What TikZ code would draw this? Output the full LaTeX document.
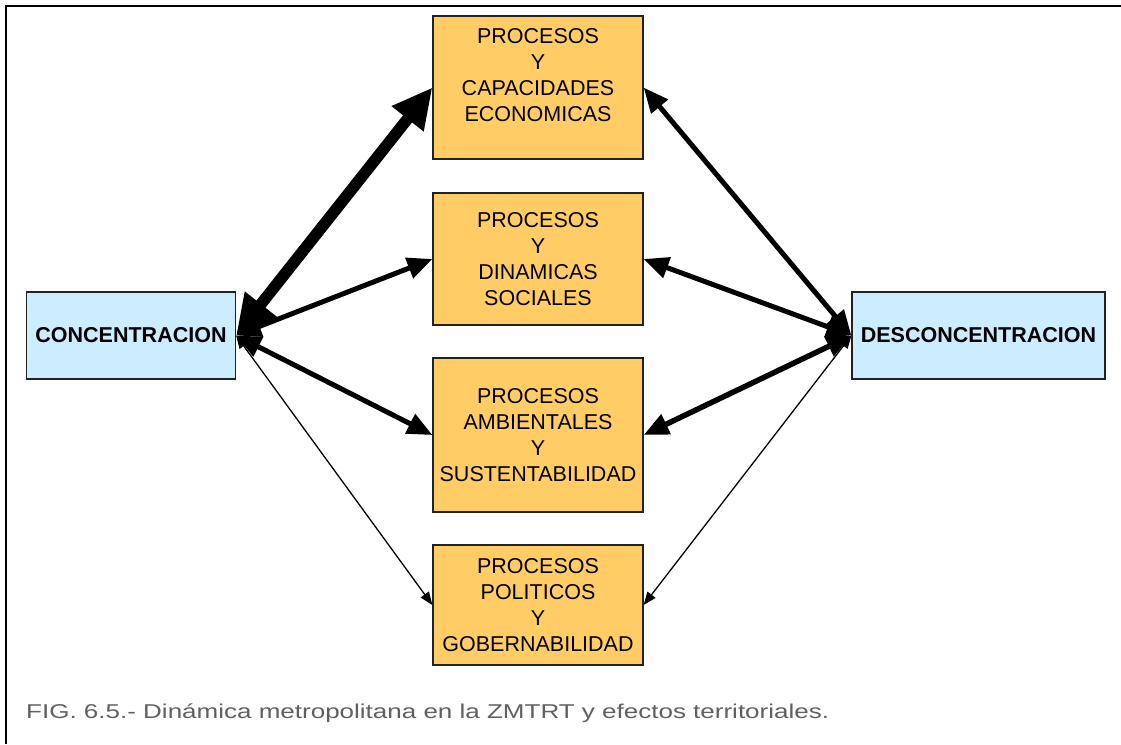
\documentclass[tikz,border=0pt]{standalone}
\usepackage{fontspec}
\usepackage{graphicx}
\setmainfont{Liberation Sans}
\usetikzlibrary{arrows.meta}
\definecolor{procfill}{HTML}{FFCC66}
\definecolor{polofill}{HTML}{CCECFF}
\definecolor{boxline}{HTML}{222222}
\definecolor{capgray}{HTML}{606060}
\tikzset{
  procbox/.style={draw=boxline, line width=1.2pt, fill=procfill, minimum width=210pt,
    inner sep=0pt, align=center, font=\fontsize{21.5}{26}\selectfont},
  proctext/.style={inner sep=0pt, align=center, font=\fontsize{21.5}{26}\selectfont},
  polebox/.style={draw=boxline, line width=1.2pt, fill=polofill, minimum width=209pt,
    minimum height=87pt, inner sep=0pt, font=\fontsize{21.5}{26}\selectfont\bfseries},
  linkheavy/.style={line width=11.5pt,
    {Triangle[length=40pt,width=38pt]}-{Triangle[length=40pt,width=38pt]}},
  linkmid/.style={line width=5pt,
    {Triangle[length=25pt,width=21pt]}-{Triangle[length=25pt,width=21pt]}},
  linkthin/.style={line width=1.3pt,
    {Triangle[length=13pt,width=10pt]}-{Triangle[length=13pt,width=10pt]}},
}
\begin{document}
\begin{tikzpicture}[x=1pt,y=-1pt]
\useasboundingbox (0,0) rectangle (1121,744);
% outer frame (top and left edges)
\draw[line width=2pt] (6,744) -- (6,6) -- (1121,6);

% central process boxes
\node[procbox, minimum height=143pt] (eco) at (538,87.5) {};
\node[proctext] (ecotext) at (538,75.5) {PROCESOS\\Y\\CAPACIDADES\\ECONOMICAS};
\node[procbox, minimum height=132pt] (soc) at (538,259) {PROCESOS\\Y\\DINAMICAS\\SOCIALES};
\node[procbox, minimum height=154pt] (amb) at (538,435) {PROCESOS\\AMBIENTALES\\Y\\SUSTENTABILIDAD};
\node[procbox, minimum height=120pt] (pol) at (538,605) {PROCESOS\\POLITICOS\\Y\\GOBERNABILIDAD};

% the two poles
\node[polebox] (conc) at (131,335.5) {CONCENTRACION};
\node[polebox, minimum width=253pt] (desc) at (978.5,335.5) {DESCONCENTRACION};

% links from the concentration pole
\draw[linkheavy] (conc.east) -- (eco.west);
\draw[linkmid] (conc.east) -- (soc.west);
\draw[linkmid] (conc.east) -- (amb.west);
\draw[linkthin] (conc.east) -- (pol.west);

% links from the deconcentration pole
\draw[linkmid] (desc.west) -- (eco.east);
\draw[linkmid] (desc.west) -- (soc.east);
\draw[linkmid, line width=5.5pt] (desc.west) -- (amb.east);
\draw[linkthin] (desc.west) -- (pol.east);

% caption (wide-set)
\node[anchor=base west, inner sep=0pt, text=capgray, font=\fontsize{20}{24}\selectfont] (cap) at (26,718)
  {\scalebox{1.3}[1]{FIG. 6.5.- Dinámica metropolitana en la ZMTRT y efectos territoriales.}};
\end{tikzpicture}
\end{document}
